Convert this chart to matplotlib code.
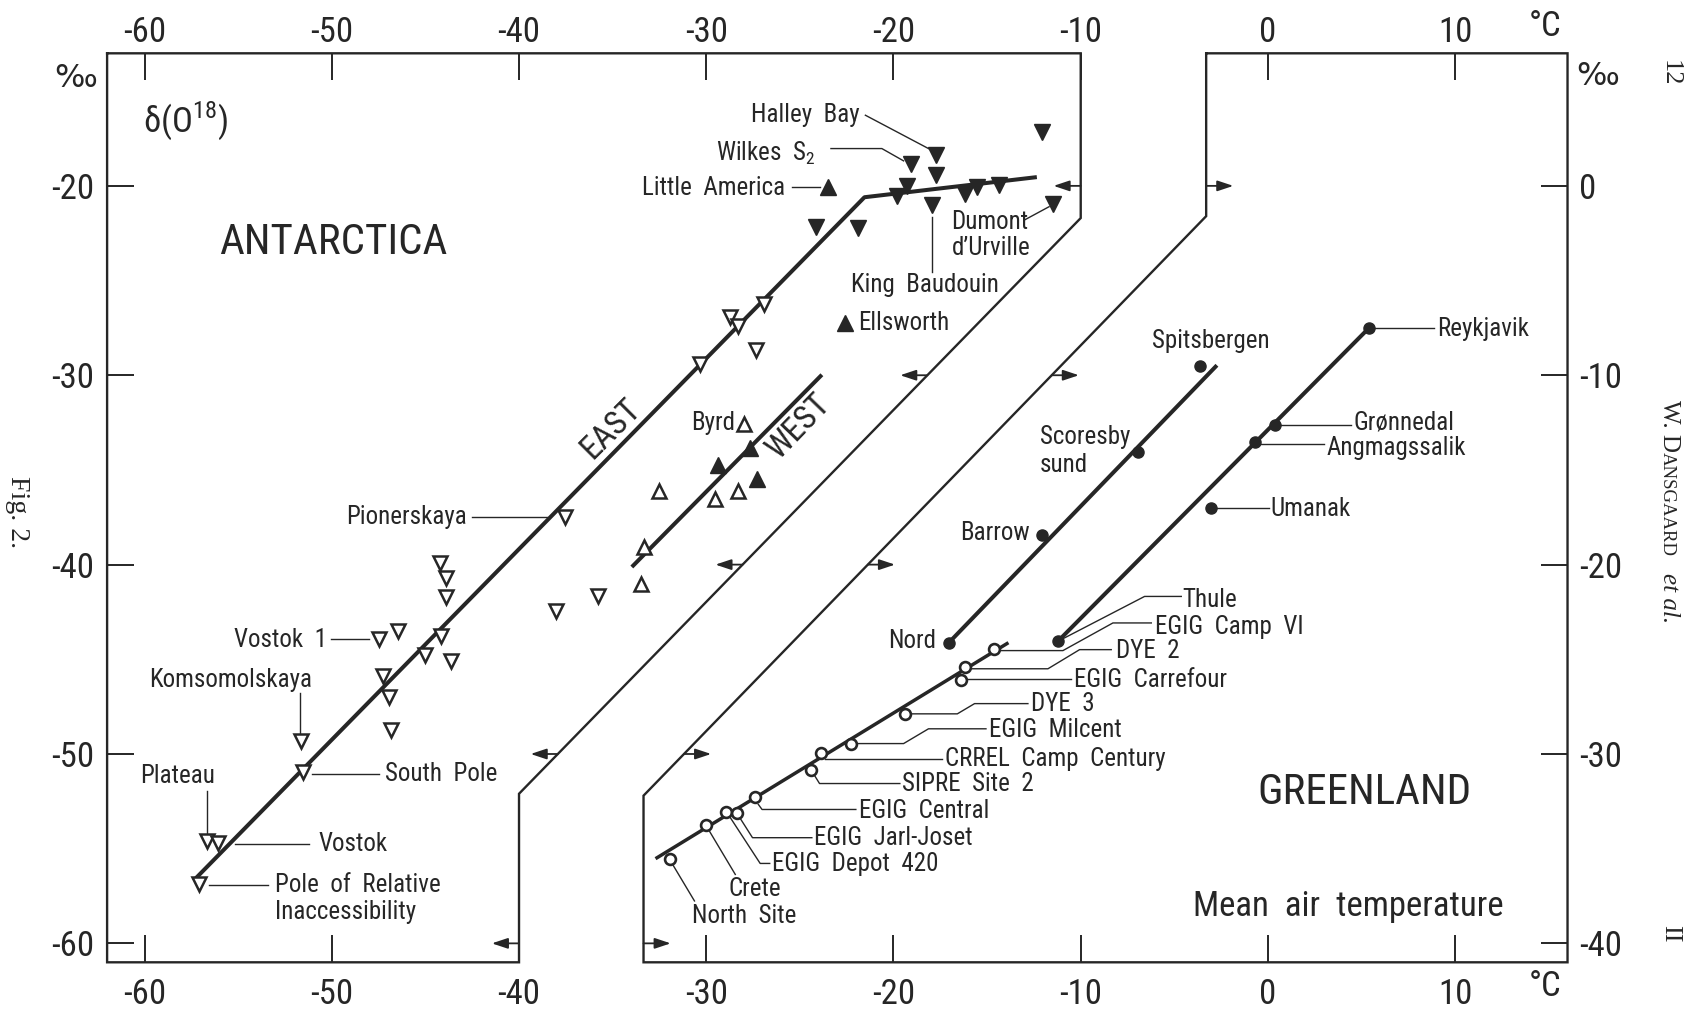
import numpy as np
import matplotlib
matplotlib.use("Agg")
import matplotlib.pyplot as plt
from matplotlib import font_manager

INK = "#262626"


def pick_family(names):
    for fam in names:
        try:
            font_manager.findfont(fam, fallback_to_default=False)
            return fam
        except ValueError:
            pass
    return "DejaVu Sans"


SANS = pick_family(["Liberation Sans Narrow", "Roboto Condensed", "Lato", "Roboto"])
SERIF = pick_family(["Liberation Serif", "DejaVu Serif"])
plt.rcParams["font.family"] = [SANS, "DejaVu Sans"]
plt.rcParams["axes.unicode_minus"] = False
plt.rcParams["mathtext.fontset"] = "custom"
plt.rcParams["mathtext.rm"] = SANS

# ---- Antarctica: temperature (deg C) and delta-18O (permil) ----
# inland East Antarctic stations (open, pointing down)
east_t = [-37.52, -44.23, -43.91, -43.91, -46.45, -47.47, -44.18, -45.03, -43.64,
          -47.29, -46.94, -46.86, -51.66, -51.54, -56.68, -56.08, -57.10,
          -28.75, -28.28, -26.90, -27.36, -30.36, -35.80, -38.05]
east_d = [-37.46, -39.92, -40.71, -41.71, -43.52, -43.91, -43.75, -44.75, -45.11,
          -45.90, -46.98, -48.71, -49.33, -50.96, -54.60, -54.72, -56.88,
          -26.92, -27.38, -26.24, -28.69, -29.43, -41.64, -42.47]
# coastal stations (filled, pointing down)
coast_t = [-12.05, -17.71, -19.04, -17.75, -19.26, -19.79, -17.92, -16.16, -15.52,
           -14.38, -11.48, -24.12, -21.90]
coast_d = [-17.15, -18.38, -18.82, -19.44, -20.02, -20.53, -21.02, -20.45, -20.08,
           -19.93, -20.97, -22.16, -22.25]
# West Antarctica (open / filled, pointing up)
west_t = [-28.00, -32.50, -29.51, -28.30, -33.32, -33.46]
west_d = [-32.57, -36.10, -36.54, -36.10, -39.06, -41.01]
west_fill_t = [-27.68, -29.37, -27.28, -22.58, -23.52]
west_fill_d = [-33.83, -34.76, -35.50, -27.22, -20.06]

east_fit_t = [-57.3, -21.55, -12.45]
east_fit_d = [-56.6, -20.6, -19.55]
west_fit_t = [-33.9, -23.9]
west_fit_d = [-40.05, -30.05]

# ---- Greenland ----
gl_coast_t = [-3.61, -6.95, -12.06, -17.06, 5.38, 0.39, -0.67, -3.06, -11.20]
gl_coast_d = [-29.49, -34.06, -38.42, -44.14, -27.52, -32.62, -33.55, -37.02, -44.03]
gl_ice_t = [-31.96, -30.02, -28.92, -28.38, -27.38, -24.42, -23.89, -22.25, -19.40,
            -16.37, -16.16, -14.64]
gl_ice_d = [-55.56, -53.76, -53.05, -53.10, -52.28, -50.82, -49.94, -49.45, -47.88,
            -46.07, -45.40, -44.44]

nord_fit_t = [-17.06, -2.8]
nord_fit_d = [-44.14, -29.55]
coast_fit_t = [-11.2, 5.38]
coast_fit_d = [-44.03, -27.52]
ice_fit_t = [-32.63, -13.94]
ice_fit_d = [-55.48, -44.17]

temp_ticks = [-60, -50, -40, -30, -20, -10, 0, 10]
delta_ticks = [-20, -30, -40, -50, -60]
delta_ticks_right = [0, -10, -20, -30, -40]
arrow_levels = [-20, -30, -40, -50, -60]

# outlines of the two panels
ant_edge_t = [-62, -10, -10, -40, -40, -62, -62]
ant_edge_d = [-13, -13, -21.7, -52.1, -61, -61, -13]
grl_edge_t = [-3.3, 16, 16, -33.35, -33.35, -3.3, -3.3]
grl_edge_d = [-13, -13, -61, -61, -52.2, -21.6, -13]

fig = plt.figure(figsize=(16.96, 10.11), dpi=100)
ax = fig.add_axes([0.06315, 0.04817, 0.8611, 0.8991])
ax.set_xlim(-62, 16)
ax.set_ylim(-61, -13)
for s in ax.spines.values():
    s.set_visible(False)

ax.plot(ant_edge_t, ant_edge_d, color=INK, lw=1.7, clip_on=False, solid_joinstyle="miter")
ax.plot(grl_edge_t, grl_edge_d, color=INK, lw=1.7, clip_on=False, solid_joinstyle="miter")

tick_style = dict(direction="in", length=19.5, width=1.4, color=INK,
                  labelsize=25, labelcolor=INK)
ax.set_xticks(temp_ticks)
ax.set_yticks(delta_ticks)
ax.tick_params(axis="x", pad=11, **tick_style)
ax.tick_params(axis="y", pad=9, **tick_style)

top = ax.secondary_xaxis("top")
top.set_xticks(temp_ticks)
top.spines["top"].set_visible(False)
top.tick_params(axis="x", pad=3, **tick_style)

ax2 = ax.twinx()
ax2.set_ylim(-41, 7)
ax2.set_yticks(delta_ticks_right)
for s in ax2.spines.values():
    s.set_visible(False)
ax2.tick_params(axis="y", pad=8, **tick_style)

# regression lines
lw_fit = 2.9
ax.plot(east_fit_t, east_fit_d, color=INK, lw=lw_fit, zorder=2)
ax.plot(west_fit_t, west_fit_d, color=INK, lw=lw_fit, zorder=2)
ax.plot(nord_fit_t, nord_fit_d, color=INK, lw=lw_fit, zorder=2)
ax.plot(coast_fit_t, coast_fit_d, color=INK, lw=lw_fit, zorder=2)
ax.plot(ice_fit_t, ice_fit_d, color=INK, lw=2.5, zorder=2)

# station markers
ax.plot(east_t, east_d, "v", ms=10.5, mfc="white", mec=INK, mew=1.8, ls="none", zorder=4)
ax.plot(coast_t, coast_d, "v", ms=11.5, mfc=INK, mec=INK, ls="none", zorder=4)
ax.plot(west_t, west_d, "^", ms=10.5, mfc="white", mec=INK, mew=1.8, ls="none", zorder=4)
ax.plot(west_fill_t, west_fill_d, "^", ms=11.5, mfc=INK, mec=INK, ls="none", zorder=4)
ax.plot(gl_coast_t, gl_coast_d, "o", ms=8, mfc=INK, mec=INK, ls="none", zorder=4)
ax.plot(gl_ice_t, gl_ice_d, "o", ms=7.8, mfc="white", mec=INK, mew=1.9, ls="none", zorder=4)

# arrows off the panel outlines
ant_diag_d = [-52.1, -21.7]
ant_diag_t = [-40, -10]
grl_diag_d = [-52.2, -21.6]
grl_diag_t = [-33.35, -3.3]
head = dict(arrowstyle="-|>,head_length=0.6,head_width=0.2", color=INK, lw=1.3,
            mutation_scale=16, shrinkA=0, shrinkB=0)
for lev in arrow_levels:
    t0 = np.interp(lev, ant_diag_d, ant_diag_t)
    ax.annotate("", xy=(t0 - 1.45, lev), xytext=(t0, lev), arrowprops=head)
    t1 = np.interp(lev, grl_diag_d, grl_diag_t)
    ax.annotate("", xy=(t1 + 1.45, lev), xytext=(t1, lev), arrowprops=head)

# station names and leader lines
LAB = 18
labels = [
    ("Halley  Bay", -21.8, -16.27, "right"),
    (r"Wilkes  S$_{\mathrm{2}}$", -24.15, -18.3, "right"),
    ("Little  America", -25.8, -20.1, "right"),
    ("King  Baudouin", -18.3, -25.24, "center"),
    ("Dumont", -16.9, -21.9, "left"),
    ("d\u2019Urville", -16.9, -23.3, "left"),
    ("Ellsworth", -21.9, -27.26, "left"),
    ("Byrd", -28.45, -32.5, "right"),
    ("Pionerskaya", -42.8, -37.46, "right"),
    ("Vostok  1", -50.25, -43.96, "right"),
    ("Komsomolskaya", -55.4, -46.07, "center"),
    ("South  Pole", -47.16, -51.08, "left"),
    ("Plateau", -58.22, -51.17, "center"),
    ("Vostok", -50.72, -54.77, "left"),
    ("Pole  of  Relative", -53.05, -56.93, "left"),
    ("Inaccessibility", -53.05, -58.37, "left"),
    ("Spitsbergen", -3.06, -28.17, "center"),
    ("Scoresby", -12.2, -33.24, "left"),
    ("sund", -12.2, -34.73, "left"),
    ("Barrow", -12.71, -38.33, "right"),
    ("Nord", -17.72, -44.05, "right"),
    ("Reykjavik", 9.03, -27.57, "left"),
    ("Grønnedal", 4.56, -32.5, "left"),
    ("Angmagssalik", 3.14, -33.82, "left"),
    ("Umanak", 0.14, -37.07, "left"),
    ("Thule", -4.58, -41.86, "left"),
    ("EGIG  Camp  VI", -6.05, -43.31, "left"),
    ("DYE  2", -8.1, -44.54, "left"),
    ("EGIG  Carrefour", -10.38, -46.1, "left"),
    ("DYE  3", -12.65, -47.34, "left"),
    ("EGIG  Milcent", -14.9, -48.72, "left"),
    ("CRREL  Camp  Century", -17.27, -50.29, "left"),
    ("SIPRE  Site  2", -19.56, -51.58, "left"),
    ("EGIG  Central", -21.85, -53.0, "left"),
    ("EGIG  Jarl-Joset", -24.22, -54.42, "left"),
    ("EGIG  Depot  420", -26.5, -55.83, "left"),
    ("Crete", -27.4, -57.11, "center"),
    ("North  Site", -30.75, -58.56, "left"),
]
for txt, t, d, ha in labels:
    ax.text(t, d, txt, fontsize=LAB, color=INK, ha=ha, va="center")

leaders = [
    [(-21.5, -16.27), (-18.13, -18.03)],
    [(-23.34, -18.03), (-20.62, -18.03), (-19.46, -18.68)],
    [(-25.44, -20.06), (-23.95, -20.06)],
    [(-17.92, -21.63), (-17.92, -24.54)],
    [(-13.02, -21.81), (-11.69, -21.1)],
    [(-42.49, -37.46), (-38.5, -37.46)],
    [(-50.05, -43.91), (-48.0, -43.91)],
    [(-51.68, -46.76), (-51.68, -48.87)],
    [(-51.07, -51.08), (-47.49, -51.08)],
    [(-56.68, -51.96), (-56.68, -54.25)],
    [(-55.15, -54.77), (-51.21, -54.77)],
    [(-56.58, -56.9), (-53.42, -56.9)],
    [(5.72, -27.52), (8.87, -27.52)],
    [(0.71, -32.62), (4.41, -32.62)],
    [(-0.37, -33.64), (2.98, -33.64)],
    [(-2.7, -37.02), (0.04, -37.02)],
    [(-11.04, -43.96), (-6.59, -41.68), (-4.63, -41.68)],
    [(-14.33, -44.54), (-10.95, -44.54), (-8.28, -43.08), (-6.23, -43.08)],
    [(-15.93, -45.5), (-11.75, -45.5), (-10.06, -44.49), (-8.37, -44.49)],
    [(-16.11, -46.03), (-10.5, -46.03)],
    [(-19.05, -47.88), (-16.59, -47.88), (-15.67, -47.34), (-12.82, -47.34)],
    [(-21.91, -49.45), (-19.46, -49.45), (-18.13, -48.67), (-15.06, -48.67)],
    [(-23.64, -50.29), (-17.41, -50.29)],
    [(-24.25, -51.08), (-23.95, -51.56), (-19.66, -51.56)],
    [(-27.22, -52.66), (-27.02, -52.93), (-22.01, -52.93)],
    [(-28.38, -53.1), (-27.53, -54.42), (-24.36, -54.42)],
    [(-28.92, -53.05), (-27.12, -55.78), (-26.61, -55.78)],
    [(-30.02, -53.76), (-28.45, -56.36)],
    [(-31.96, -55.56), (-30.63, -57.76)],
]
for pts in leaders:
    xs, ys = zip(*pts)
    ax.plot(xs, ys, color=INK, lw=1.0, zorder=1)

# panel titles and axis notes
ax.text(-49.9, -22.98, "ANTARCTICA", fontsize=31, color=INK, ha="center", va="center")
ax.text(5.15, -52.05, "GREENLAND", fontsize=31, color=INK, ha="center", va="center")
ax.text(4.28, -58.03, "Mean  air  temperature", fontsize=25, color=INK, ha="center", va="center")
ax.text(-60.1, -16.53, r"δ(O$^{\mathrm{18}}$)", fontsize=25, color=INK, ha="left", va="center")
ax.text(-35.09, -32.8, "EAST", fontsize=24, color=INK, ha="center", va="center",
        rotation=45, rotation_mode="anchor")
ax.text(-25.07, -32.71, "WEST", fontsize=24, color=INK, ha="center", va="center",
        rotation=46, rotation_mode="anchor")
permil = dict(family="DejaVu Sans", fontsize=23, color=INK, ha="center", va="center",
              clip_on=False)
ax.text(-63.66, -14.32, "‰", **permil)
ax.text(17.6, -14.21, "‰", **permil)
ax.text(14.82, -11.6, "°C", fontsize=25, color=INK, ha="center", va="center", clip_on=False)
ax.text(14.82, -62.26, "°C", fontsize=25, color=INK, ha="center", va="center", clip_on=False)

# page furniture
W, H = 1696, 1011
fig.text(1670 / W, 1 - 60 / H, "12", family=SERIF, fontsize=19, color=INK,
         rotation=270, ha="center", va="top")
fig.text(1669 / W, 1 - 400 / H, "W. D", family=SERIF, fontsize=18, color=INK,
         rotation=270, ha="center", va="top")
fig.text(1667 / W, 1 - 452 / H, "ANSGAARD", family=SERIF, fontsize=13.5, color=INK,
         rotation=270, ha="center", va="top")
fig.text(1669 / W, 1 - 573 / H, "et al.", family=SERIF, style="italic", fontsize=18,
         color=INK, rotation=270, ha="center", va="top")
fig.text(17 / W, 1 - 476 / H, "Fig. 2.", family=SERIF, fontsize=20, color=INK,
         rotation=270, ha="center", va="top")
fig.text(1670 / W, 1 - 925 / H, "II", family=SERIF, fontsize=19, color=INK,
         rotation=270, ha="center", va="top")

fig.savefig("out.png", dpi=100, facecolor="white")
